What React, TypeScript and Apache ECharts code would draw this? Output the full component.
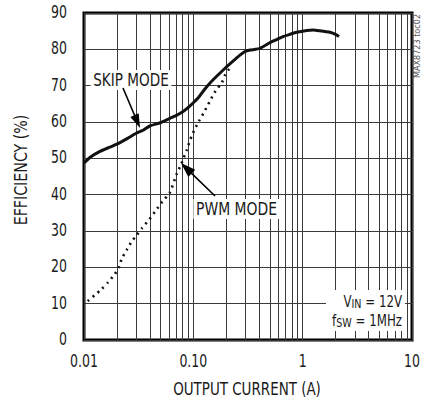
import React, { useEffect, useRef } from "react";
import * as echarts from "echarts";

const skipX = [0.01, 0.0114, 0.014, 0.017, 0.02, 0.025, 0.03, 0.035, 0.04, 0.05, 0.061, 0.07, 0.08, 0.09, 0.1, 0.112, 0.124, 0.137, 0.16, 0.195, 0.24, 0.267, 0.297, 0.33, 0.37, 0.407, 0.5, 0.58, 0.66, 0.76, 0.88, 1.0, 1.09, 1.25, 1.44, 1.6, 1.78, 2.0, 2.15];
const skipY = [48.7, 50.3, 51.9, 53.0, 53.9, 55.5, 56.9, 57.8, 58.9, 59.8, 61.0, 61.8, 62.8, 64.0, 65.3, 66.8, 68.6, 70.2, 72.3, 74.8, 77.2, 78.4, 79.4, 79.8, 80.0, 80.3, 81.8, 82.7, 83.5, 84.1, 84.7, 85.0, 85.2, 85.3, 85.1, 84.9, 84.7, 84.1, 83.5];

const pwmX = [0.0108, 0.0125, 0.0145, 0.0165, 0.019, 0.021, 0.0221, 0.0246, 0.0273, 0.0304, 0.0337, 0.0396, 0.0446, 0.052, 0.061, 0.0705, 0.078, 0.087, 0.0966, 0.109, 0.126, 0.142, 0.16, 0.182, 0.195, 0.215];
const pwmY = [10.7, 12.3, 14.0, 15.8, 18.0, 20.2, 22.3, 24.8, 27.1, 28.9, 30.7, 33.2, 35.3, 38.1, 40.6, 45.7, 48.6, 52.3, 56.2, 59.5, 62.8, 65.8, 68.6, 70.8, 72.9, 74.8];

const minorGridX = [0.02, 0.03, 0.04, 0.05, 0.06, 0.07, 0.08, 0.09, 0.2, 0.3, 0.4, 0.5, 0.6, 0.7, 0.8, 0.9, 2, 3, 4, 5, 6, 7, 8, 9];
const xTicks = [0.01, 0.1, 1, 10];
const xTickLabels = ["0.01", "0.10", "1", "10"];
const yTicks = [0, 10, 20, 30, 40, 50, 60, 70, 80, 90];
const yTickLabels = ["0", "10", "20", "30", "40", "50", "60", "70", "80", "90"];

const FONT = "'DejaVu Sans Condensed', 'Liberation Sans', sans-serif";
const GRID_COLOR = "#3a3a3a";
const TXT = "#1a1a1a";

export default function App() {
  const ref = useRef<HTMLDivElement>(null);
  useEffect(() => {
    if (!ref.current) return;
    const chart = echarts.init(ref.current, null, { renderer: "svg" });
    chart.setOption({
      animation: false,
      grid: { left: 84, right: 9, top: 13, bottom: 63, show: true, borderColor: "#000", borderWidth: 3, backgroundColor: "transparent" },
      xAxis: {
        type: "log",
        logBase: 10,
        min: 0.01,
        max: 10,
        axisLine: { show: false },
        axisTick: { show: false },
        axisLabel: { show: false },
        splitLine: { show: true, lineStyle: { color: GRID_COLOR, width: 1 } },
      },
      yAxis: {
        type: "value",
        min: 0,
        max: 90,
        interval: 10,
        axisLine: { show: false },
        axisTick: { show: false },
        axisLabel: { show: false },
        splitLine: { show: true, lineStyle: { color: GRID_COLOR, width: 1 } },
      },
      series: [
        {
          type: "line",
          name: "SKIP MODE",
          data: skipX.map((x, i) => [x, skipY[i]]),
          showSymbol: false,
          smooth: 0.2,
          lineStyle: { color: "#111", width: 3 },
          z: 5,
          markLine: {
            silent: true,
            symbol: "none",
            label: { show: false },
            lineStyle: { color: GRID_COLOR, width: 1, type: "solid" },
            data: minorGridX.map((v) => ({ xAxis: v })),
            z: 1,
          },
        },
        {
          type: "line",
          name: "PWM MODE",
          data: pwmX.map((x, i) => [x, pwmY[i]]),
          showSymbol: false,
          smooth: 0.2,
          lineStyle: { color: "#111", width: 2.6, type: [2, 4.5] },
          z: 4,
        },
      ],
    });

    const arrow = (x1: number, y1: number, x2: number, y2: number, hl: number, hw: number) => {
      const dx = x2 - x1, dy = y2 - y1;
      const len = Math.sqrt(dx * dx + dy * dy);
      const ux = dx / len, uy = dy / len;
      const bx = x2 - ux * hl, by = y2 - uy * hl;
      const px = -uy * hw, py = ux * hw;
      return [
        { type: "line", z: 100, shape: { x1, y1, x2: bx + ux * 2, y2: by + uy * 2 }, style: { stroke: "#000", lineWidth: 1.6 } },
        { type: "polygon", z: 100, shape: { points: [[x2, y2], [bx + px, by + py], [bx - px, by - py]] }, style: { fill: "#000" } },
      ];
    };

    const tickTexts: any[] = [];
    xTicks.forEach((v, i) => {
      const p = chart.convertToPixel({ gridIndex: 0 }, [v, 0]) as number[];
      tickTexts.push({ type: "text", z: 100, x: p[0], y: p[1] + 22, scaleX: 0.82, style: { text: xTickLabels[i], x: 0, y: 0, align: "center", verticalAlign: "middle", fontFamily: FONT, fontSize: 17, fill: TXT } });
    });
    yTicks.forEach((v, i) => {
      const p = chart.convertToPixel({ gridIndex: 0 }, [0.01, v]) as number[];
      tickTexts.push({ type: "text", z: 100, x: p[0] - 17, y: p[1] - 0.5, scaleX: 0.82, style: { text: yTickLabels[i], x: 0, y: 0, align: "right", verticalAlign: "middle", fontFamily: FONT, fontSize: 17, fill: TXT } });
    });

    const subRich = (main: number, sub: number) => ({
      a: { fontSize: main, fontFamily: FONT, fill: TXT, lineHeight: 17 },
      s: { fontSize: sub, fontFamily: FONT, fill: TXT, lineHeight: 17, padding: [5, 0, 0, 0] },
    });

    chart.setOption({
      graphic: [
        ...tickTexts,
        { type: "text", z: 100, x: 247, y: 389, scaleX: 0.88, style: { text: "OUTPUT CURRENT (A)", x: 0, y: 0, align: "center", verticalAlign: "middle", fontFamily: FONT, fontSize: 17, fill: TXT } },
        { type: "text", z: 100, x: 21.5, y: 170, rotation: Math.PI / 2, scaleX: 0.93, style: { text: "EFFICIENCY (%)", x: 0, y: 0, align: "center", verticalAlign: "middle", fontFamily: FONT, fontSize: 17, fill: TXT } },
        { type: "text", z: 100, x: 131, y: 80, scaleX: 0.84, style: { text: "SKIP MODE", x: 0, y: 0, align: "center", verticalAlign: "middle", fontFamily: FONT, fontSize: 18, fill: TXT, backgroundColor: "#fff", padding: [1, 3, 1, 3] } },
        ...arrow(123, 88, 140, 128, 14, 4.5),
        { type: "text", z: 100, x: 236.5, y: 209, scaleX: 0.86, style: { text: "PWM MODE", x: 0, y: 0, align: "center", verticalAlign: "middle", fontFamily: FONT, fontSize: 18, fill: TXT, backgroundColor: "#fff", padding: [1, 3, 1, 3] } },
        ...arrow(215, 196, 181, 163, 15, 5),
        { type: "rect", z: 99, shape: { x: 326, y: 290, width: 79, height: 41 }, style: { fill: "#fff" } },
        { type: "text", z: 100, x: 402, y: 301, scaleX: 0.82, style: { text: "{a|V}{s|IN}{a| = 12V}", x: 0, y: 0, align: "right", verticalAlign: "middle", fontFamily: FONT, rich: subRich(16, 13) } },
        { type: "text", z: 100, x: 402, y: 320, scaleX: 0.82, style: { text: "{a|f}{s|SW}{a| = 1MHz}", x: 0, y: 0, align: "right", verticalAlign: "middle", fontFamily: FONT, rich: subRich(16, 13) } },
        { type: "text", z: 100, x: 417, y: 46, rotation: Math.PI / 2, style: { text: "MAX8723 toc02", x: 0, y: 0, align: "center", verticalAlign: "middle", fontFamily: FONT, fontSize: 9, fill: "#555" } },
      ],
    });
    return () => chart.dispose();
  }, []);
  return <div ref={ref} style={{ position: "fixed", left: 0, top: 0, width: 421, height: 403, background: "#fff" }} />;
}
